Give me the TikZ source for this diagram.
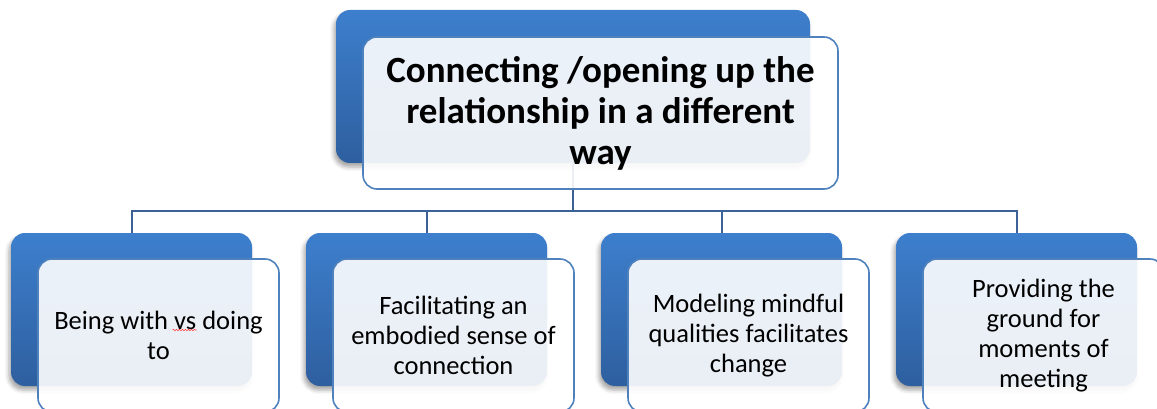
\documentclass[tikz,border=0pt]{standalone}
\usepackage{fontspec}
\setmainfont{Carlito}
\usetikzlibrary{shadows.blur,decorations.pathmorphing,backgrounds,calc}
\definecolor{bluetop}{HTML}{3D7FCD}
\definecolor{bluebot}{HTML}{2E5F9F}
\definecolor{edgeblue}{HTML}{4F81BD}
\definecolor{linkblue}{HTML}{3B6196}
\tikzset{
  backbox/.style={rectangle, rounded corners=14pt, inner sep=0pt,
    minimum width=241pt, minimum height=153pt,
    top color=bluetop, bottom color=bluebot, draw=none,
    blur shadow={shadow xshift=-2pt, shadow yshift=-4pt, shadow opacity=35, shadow blur radius=4pt}},
  frontbox/.style={rectangle, rounded corners=14pt, inner sep=0pt,
    minimum width=241pt, minimum height=153pt,
    draw=edgeblue, line width=1.6pt, fill=white, fill opacity=0.9, text opacity=1,
    align=center, text=black, font=\fontsize{26.5}{30}\selectfont},
  link/.style={draw=linkblue, line width=2pt},
  squiggle/.style={draw=red!75, line width=0.6pt, decorate,
    decoration={snake, amplitude=0.7pt, segment length=3pt}},
}
\begin{document}
\begin{tikzpicture}[x=1pt,y=1pt]
\useasboundingbox (0,0) rectangle (1157,-409);
% back boxes
\node[backbox, minimum width=474pt] (topb) at (573,-86.5) {};
\node[backbox] (b1) at (131.5,-309.5) {};
\node[backbox] (b2) at (426.5,-309.5) {};
\node[backbox] (b3) at (721.5,-309.5) {};
\node[backbox] (b4) at (1016.5,-309.5) {};
% front boxes
\node[frontbox, minimum width=475pt, minimum height=152pt,
      font=\bfseries\fontsize{37}{41}\selectfont] (topf) at (600.5,-113)
  {Connecting /opening up the\\relationship in a different\\way};
\node[frontbox] (f1) at (158.5,-335.5) {Being with vs doing\\to};
\node[frontbox] (f2) at (453.5,-335.5)
  {Facilitating an\\embodied sense of\\connection};
\node[frontbox] (f3) at (748.5,-335.5)
  {Modeling mindful\\qualities facilitates\\change};
\node[frontbox] (f4) at (1043.5,-335.5)
  {Providing the\\ground for\\moments of\\meeting};
% spell-check underline under "vs"
\coordinate (sqa) at ($(f1.center)+(14,5.5)$);
\coordinate (sqb) at ($(f1.center)+(38,5.5)$);
\draw[squiggle] (sqa) -- (sqb);
% connectors
\begin{scope}[on background layer]
\coordinate (bus) at ($(topb.south)+(0,-48)$);
\draw[link] (topb.south) -- (bus);
\draw[link] (bus) -| (b1.north);
\draw[link] (bus) -| (b2.north);
\draw[link] (bus) -| (b3.north);
\draw[link] (bus) -| (b4.north);
\end{scope}
\end{tikzpicture}
\end{document}
